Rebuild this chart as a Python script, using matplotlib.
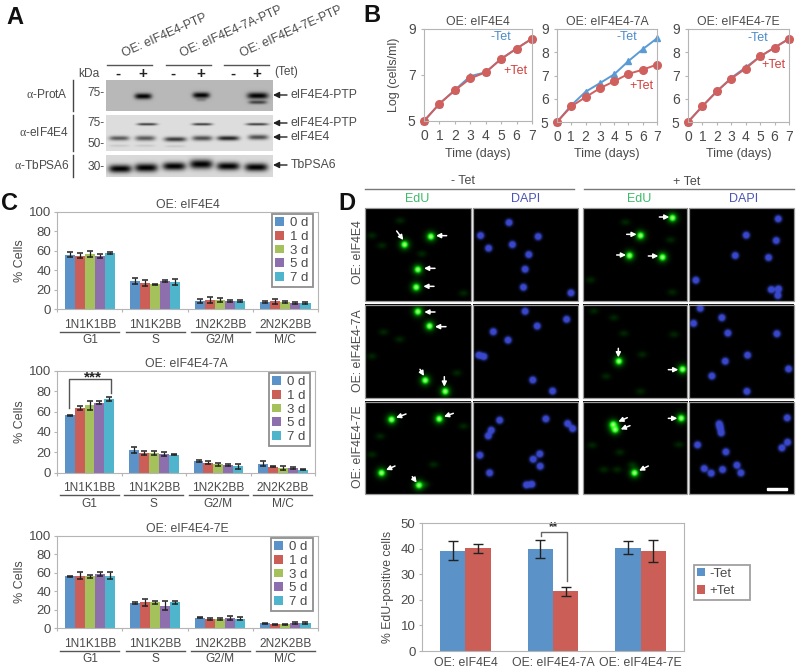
import numpy as np
import matplotlib
matplotlib.use("Agg")
import matplotlib.pyplot as plt
from matplotlib.patches import Rectangle

plt.rcParams['font.family'] = ['Liberation Sans', 'DejaVu Sans']
plt.rcParams['mathtext.fontset'] = 'custom'
plt.rcParams['mathtext.rm'] = 'Liberation Serif'

W, H = 800, 672
TXT = '#4a4a4a'
FRAME = '#b5b5b5'

# Panel B: growth curves
days = [0, 1, 2, 3, 4, 5, 6, 7]
wt_minus = [5, 5.75, 6.35, 6.95, 7.12, 7.7, 8.15, 8.58]
wt_plus = [5, 5.75, 6.33, 6.85, 7.12, 7.7, 8.15, 8.58]
a7_minus = [5, 5.72, 6.3, 6.67, 7.05, 7.62, 8.13, 8.6]
a7_plus = [5, 5.67, 6.07, 6.45, 6.75, 7.07, 7.25, 7.47]
e7_minus = [5, 5.68, 6.32, 6.9, 7.35, 7.82, 8.2, 8.58]
e7_plus = [5, 5.68, 6.32, 6.87, 7.3, 7.82, 8.2, 8.58]

# Panel C: cell cycle stages, one row per stage, one column per day
stages = ['1N1K1BB', '1N1K2BB', '1N2K2BB', '2N2K2BB']
phases = ['G1', 'S', 'G2/M', 'M/C']
day_labels = ['0 d', '1 d', '3 d', '5 d', '7 d']
day_colors = ['#5b93c8', '#cb5f58', '#a5c15c', '#8c6fac', '#4fb5cd']
c_wt = [[56, 55, 57, 55, 57.5], [29, 27, 25.5, 29, 28], [8.5, 9.5, 9.5, 8.5, 8.5], [7.5, 8, 7.8, 6.5, 6]]
c_wt_err = [[2.5, 2.5, 3, 2, 1], [3, 3, 0.8, 1, 3], [2.5, 3, 2, 1, 0.8], [0.8, 2.5, 1, 0.8, 1]]
c_7a = [[56.5, 63.5, 66, 68.5, 72], [22.5, 19.5, 19.5, 18.5, 17.5], [11.5, 10, 8.5, 7.5, 6.5], [9, 6, 4.5, 5, 3]]
c_7a_err = [[0.5, 2, 4.5, 1.5, 2], [3, 2, 2, 2, 0.5], [1, 1.5, 1.5, 1, 2.5], [2, 0.8, 2, 1, 0.5]]
c_7e = [[56, 57, 56, 58.5, 57], [27.5, 28, 28, 24.5, 28], [11.5, 10.5, 10.5, 11.5, 10.5], [5.5, 4.5, 4.5, 5.5, 5.5]]
c_7e_err = [[0.8, 4, 2, 2.5, 3.5], [1.2, 4, 1.5, 5, 2], [0.5, 1, 1, 2, 1.5], [0.5, 0.5, 0.5, 1, 0.8]]

# Panel D: EdU bars
edu_groups = ['OE: eIF4E4', 'OE: eIF4E4-7A', 'OE: eIF4E4-7E']
edu_minus = [39.3, 40, 40.5]
edu_plus = [40.2, 23.4, 39]
edu_minus_err = [3.7, 3.5, 2.6]
edu_plus_err = [1.7, 1.7, 4.3]

# Panel D: micrographs, cell spots
green_bright = [
    [(193, 162), (272, 138), (233, 237), (228, 290)],
    [(996, 82), (900, 135), (867, 195), (966, 200)],
    [(233, 367), (268, 410), (255, 572), (315, 605)],
    [(835, 515), (1026, 539)],
    [(154, 690), (297, 688), (124, 850), (236, 887)],
    [(818, 705), (824, 720), (1022, 686), (882, 850)],
]
green_faint = [
    [(95, 135), (125, 165), (245, 190), (370, 308), (180, 90)],
    [(990, 148), (750, 268), (995, 305), (855, 95)],
    [(130, 428), (178, 450), (95, 500), (350, 550)],
    [(760, 365), (820, 385), (850, 432), (1000, 435), (905, 495), (797, 560), (900, 605)],
    [(370, 710), (120, 740), (95, 795), (280, 825), (255, 885)],
    [(755, 767), (838, 788), (1015, 765), (790, 840), (830, 840), (875, 825)],
]
blue_cells = [
    [(505, 96), (420, 135), (592, 138), (515, 162), (444, 173), (564, 192), (553, 236), (548, 290), (690, 307)],
    [(1314, 85), (1218, 134), (1308, 150), (1185, 195), (1285, 201), (1067, 269), (1293, 297), (1315, 295), (1313, 315)],
    [(553, 366), (677, 390), (589, 410), (458, 427), (502, 452), (415, 497), (430, 501), (576, 571), (635, 604)],
    [(1080, 357), (1145, 385), (1060, 402), (1163, 431), (1310, 433), (1222, 497), (1155, 515), (1345, 538), (1115, 559), (1220, 605)],
    [(477, 692), (615, 688), (680, 702), (695, 717), (452, 722), (443, 739), (418, 797), (597, 793), (577, 809), (598, 830), (447, 850), (557, 886), (573, 884)],
    [(1341, 685), (1137, 703), (1140, 715), (1143, 730), (1072, 766), (1342, 758), (1325, 775), (1157, 787), (1190, 827), (1092, 837), (1113, 851), (1147, 840), (1202, 850)],
]
white_arrows = [
    ((170, 123), (190, 150)), ((320, 137), (288, 137)), ((285, 235), (252, 235)), ((282, 289), (250, 289)),
    ((958, 81), (988, 81)), ((860, 133), (890, 133)), ((830, 195), (858, 195)), ((925, 198), (955, 198)),
    ((285, 366), (253, 366)), ((318, 410), (285, 410)), ((240, 538), (252, 558)), ((313, 560), (313, 590)),
    ((835, 475), (835, 502)), ((985, 539), (1015, 539)),
    ((198, 672), (168, 683)), ((340, 670), (312, 680)), ((165, 828), (138, 840)), ((217, 860), (230, 878)),
    ((862, 683), (835, 695)), ((870, 707), (842, 718)), ((985, 685), (1012, 685)), ((925, 828), (897, 842)),
]

fig = plt.figure(figsize=(8, 6.72), dpi=100)

# full-figure axes in pixel coordinates, for text, blots and micrographs
ov = fig.add_axes([0, 0, 1, 1], facecolor='none')
ov.axis('off')


def px_axes(left, top, right, bottom):
    ax = fig.add_axes([left / W, 1 - bottom / H, (right - left) / W, (bottom - top) / H])
    ax.patch.set_alpha(0)
    return ax


def label(x, y, s, size=9, color=TXT, **kw):
    kw.setdefault('ha', 'center')
    kw.setdefault('va', 'center')
    ov.text(x, y, s, fontsize=size, color=color, **kw)


def zx(x):
    return x / 3 + 340


def zy(y):
    return y / 3 + 190


# Panel A: western blots
def blot(left, top, right, bottom, bg, bands):
    xs, ys = np.meshgrid(np.arange(left, right, 0.5), np.arange(top, bottom, 0.5))
    img = np.full(xs.shape, bg, dtype=float)
    for cx, cy, hw, hh, s in bands:
        band = np.exp(-((xs - cx) / hw) ** 4) * np.exp(-((ys - cy) / hh) ** 2)
        img = img * (1 - s * band)
    ov.imshow(img, cmap='gray', vmin=0, vmax=1, extent=(left, right, bottom, top), aspect='auto', interpolation='bilinear')


blot(106, 80, 273, 111, 0.72, [
    (143, 96, 8.5, 2.9, 1.0), (201, 95, 8.5, 2.9, 1.0), (257.5, 95.5, 10.5, 3.2, 1.0),
    (257.5, 102, 9, 1.8, 0.65), (201, 99.5, 5, 1.8, 0.25)])
blot(106, 115, 273, 151, 0.87, [
    (147, 124, 10, 1.2, 0.75), (202, 124, 10, 1.2, 0.75), (257, 124, 11, 1.2, 0.75),
    (119, 138, 10, 2.3, 0.6), (145, 138, 10, 2.5, 0.6), (175, 139, 11, 2.3, 0.75),
    (202, 138, 10, 2.5, 0.65), (228, 138, 11, 2.3, 0.85), (258, 137, 10, 2.5, 0.65),
    (119, 145.5, 10, 1.2, 0.1), (145, 145.5, 10, 1.2, 0.1), (175, 146, 10, 1.2, 0.1)])
blot(106, 155, 273, 177, 0.85, [
    (120, 168.5, 11.5, 4, 1.0), (146, 167.5, 11.5, 4.2, 1.0), (174, 166, 11.5, 4, 1.0),
    (201, 164, 11.5, 4.6, 1.0), (228, 166, 11.5, 4, 1.0), (256, 167, 11.5, 4, 1.0)])

label(6, 17, 'A', size=17, color='#111111', ha='left', fontweight='bold')
label(372, 15, 'B', size=17, color='#111111', fontweight='bold')
label(10, 204, 'C', size=17, color='#111111', fontweight='bold')
label(347, 203, 'D', size=17, color='#111111', fontweight='bold')

for x0, x1, name, tx in [(107, 152, 'OE: eIF4E4-PTP', 125), (166, 211, 'OE: eIF4E4-7A-PTP', 183), (224, 269, 'OE: eIF4E4-7E-PTP', 243)]:
    ov.plot([x0, x1], [64.5, 64.5], color='#555555', lw=1)
    label(tx, 60, name, size=8.8, ha='left', va='bottom', rotation=24, rotation_mode='anchor')
label(89, 74, 'kDa', size=8.6)
for x, s in zip([118, 143, 173, 201, 233, 257], ['-', '+'] * 3):
    label(x, 74, s, size=11, color='#222222', fontweight='bold')
label(274, 72, '(Tet)', size=8.6, ha='left')

for y0, y1, s, lx in [(80, 111, r'$\mathrm{\alpha}$-ProtA', 68), (115, 151, r'$\mathrm{\alpha}$-eIF4E4', 69), (155, 177, r'$\mathrm{\alpha}$-TbPSA6', 70)]:
    ov.plot([72.5, 72.5], [y0, y1], color='#444444', lw=1)
    label(lx, (y0 + y1) / 2 - 0.5, s, size=8.6, ha='right')
for y, s in [(93, '75-'), (123, '75-'), (144, '50-'), (167, '30-')]:
    label(105, y, s, size=8.6, ha='right')
for y, s in [(95, 'eIF4E4-PTP'), (123, 'eIF4E4-PTP'), (137, 'eIF4E4'), (165, 'TbPSA6')]:
    ov.annotate('', xy=(273, y), xytext=(287, y), arrowprops=dict(arrowstyle='-|>', color='#222222', lw=1, mutation_scale=9, shrinkA=0, shrinkB=0))
    label(290.5, y, s, size=8.8, ha='left')


# Panel B: growth curves
def growth(left, right, top, bottom, title, minus, plus, yticks, minus_xy, plus_xy, ylabel=False):
    ax = px_axes(left, top, right, bottom)
    ax.plot(days, minus, color='#5b9bd5', lw=1.4, marker='^', ms=5, clip_on=False)
    ax.plot(days, plus, color='#d0605e', lw=1.4, marker='o', ms=5.5, clip_on=False)
    ax.set_xlim(0, 7)
    ax.set_ylim(5, 9)
    ax.set_xticks(days)
    ax.set_yticks(yticks)
    ax.tick_params(colors=TXT, labelsize=10, length=2, color=FRAME, pad=4)
    for sp in ax.spines.values():
        sp.set_color(FRAME)
    ax.set_title(title, fontsize=8.8, color=TXT, pad=3)
    ax.set_xlabel('Time (days)', fontsize=9, color=TXT, labelpad=3)
    if ylabel:
        ax.set_ylabel('Log (cells/ml)', fontsize=9, color=TXT, labelpad=6)
    label(minus_xy[0], minus_xy[1], '-Tet', color='#4a8ccb')
    label(plus_xy[0], plus_xy[1], '+Tet', color='#d0403e')


growth(424, 532, 29, 121, 'OE: eIF4E4', wt_minus, wt_plus, [5, 7, 9], (501, 37), (515, 71), ylabel=True)
growth(557, 657, 29, 122, 'OE: eIF4E4-7A', a7_minus, a7_plus, [5, 6, 7, 8, 9], (627, 37), (641, 86))
growth(688, 789, 29, 122, 'OE: eIF4E4-7E', e7_minus, e7_plus, [5, 6, 7, 8, 9], (758, 38), (773, 65))


# Panel C: stage bars
def stage_chart(top, bottom, right, title, vals, errs, leg_box, y_lab, y_line, y_sub):
    ax = px_axes(57.3, top, right, bottom)
    width = 0.154
    handles = []
    for i, name in enumerate(day_labels):
        pos = [g + 0.5 + (i - 2) * width for g in range(4)]
        heights = [row[i] for row in vals]
        yerr = [row[i] for row in errs]
        bars = ax.bar(pos, heights, width, color=day_colors[i], yerr=yerr, edgecolor='none',
                      error_kw=dict(ecolor='#222222', elinewidth=0.9, capsize=2.5, capthick=1.1))
        handles.append(bars[0])
    ax.set_xlim(0, 4)
    ax.set_ylim(0, 100)
    ax.set_yticks([0, 20, 40, 60, 80, 100])
    ax.set_xticks([0, 1, 2, 3, 4])
    ax.set_xticklabels([])
    ax.tick_params(colors=TXT, labelsize=9.5, length=2.5, color=FRAME, pad=2)
    for sp in ax.spines.values():
        sp.set_color(FRAME)
    ax.set_ylabel('% Cells', fontsize=9, color=TXT, labelpad=2)
    ax.set_title(title, fontsize=8.8, color=TXT, pad=3)

    l, t, r, b = leg_box
    leg = ax.legend(handles, day_labels, loc='upper left', ncol=1,
                    bbox_to_anchor=(l / W, 1 - b / H, (r - l) / W, (b - t) / H),
                    bbox_transform=fig.transFigure, mode='expand', fontsize=9.5, labelspacing=0.12,
                    handlelength=0.65, handleheight=0.65, handletextpad=0.5, borderpad=0.25,
                    borderaxespad=0, fancybox=False, framealpha=1)
    leg.get_frame().set_edgecolor('#8f8f8f')
    leg.get_frame().set_linewidth(1.3)
    for t_ in leg.get_texts():
        t_.set_color(TXT)

    for g, (stage, phase) in enumerate(zip(stages, phases)):
        cx = 57.3 + (right - 57.3) * (g + 0.5) / 4
        ov.plot([cx - 29.5, cx + 29.5], [y_line, y_line], color='#555555', lw=1)
        label(cx, y_lab, stage, size=8.6)
        label(cx, y_sub, phase, size=8.6)


stage_chart(211.7, 309.3, 318, 'OE: eIF4E4', c_wt, c_wt_err, (272, 214, 313, 293), 325, 332, 340)
stage_chart(370.7, 472.7, 315, 'OE: eIF4E4-7A', c_7a, c_7a_err, (269, 373, 310, 453), 488, 495, 504)
stage_chart(535.7, 628.3, 318, 'OE: eIF4E4-7E', c_7e, c_7e_err, (271, 538, 313, 618), 644, 650.5, 659)

ov.plot([69, 69, 111, 111], [408, 379, 379, 393], color='#555555', lw=1)
label(93, 377, '***', size=11, color='#222222', fontweight='bold')


# Panel D: micrographs
def micrograph(box, spots, faint, color):
    left, top, right, bottom = box
    xs, ys = np.meshgrid(np.arange(left, right, 0.5), np.arange(top, bottom, 0.5))
    core = np.zeros(xs.shape)
    glow = np.zeros(xs.shape)
    for sx, sy in spots:
        d2 = (xs - zx(sx)) ** 2 + (ys - zy(sy)) ** 2
        core += np.exp(-d2 / (7.0 if color == 'green' else 9.0))
        glow += np.exp(-d2 / 30.0)
    for sx, sy in faint:
        glow += 0.3 * np.exp(-((xs - zx(sx)) ** 2 / 22.0 + (ys - zy(sy)) ** 2 / 10.0))
    img = np.zeros(xs.shape + (3,))
    if color == 'green':
        img[..., 1] = np.clip(glow * 0.5 + core * 1.2, 0, 1)
        img[..., 0] = np.clip(core ** 2 * 0.75, 0, 1)
        img[..., 2] = np.clip(core ** 2 * 0.6, 0, 1)
    else:
        m = np.clip(core * 2.2, 0, 1)
        img[..., 0] = m * 0.22
        img[..., 1] = m * 0.28
        img[..., 2] = m * 0.80
    ov.imshow(img, extent=(left, right, bottom, top), aspect='auto', interpolation='bilinear')
    ov.add_patch(Rectangle((left, top), right - left, bottom - top, fill=False, edgecolor='#9a9a9a', lw=0.9, zorder=4))


col_x = [(365, 470.7), (472.7, 577.7), (582.7, 687.3), (689, 794)]
row_y = [(207.7, 300.7), (305, 398.3), (401.7, 494.3)]
for r, (top, bottom) in enumerate(row_y):
    for c in [0, 2]:
        k = r * 2 + c // 2
        micrograph((col_x[c][0], top, col_x[c][1], bottom), green_bright[k], green_faint[k], 'green')
        micrograph((col_x[c + 1][0], top, col_x[c + 1][1], bottom), blue_cells[k], [], 'blue')

for tail, head in white_arrows:
    ov.annotate('', xy=(zx(head[0]), zy(head[1])), xytext=(zx(tail[0]), zy(tail[1])),
                arrowprops=dict(arrowstyle='-|>', color='white', lw=1.1, mutation_scale=7, shrinkA=0, shrinkB=0))
ov.add_patch(Rectangle((766.5, 487.5), 20, 2.5, color='white', zorder=5))

label(463, 181, '- Tet')
label(687, 182, '+ Tet')
ov.plot([365, 574], [188.7, 188.7], color='#777777', lw=1)
ov.plot([584, 794], [188.7, 188.7], color='#777777', lw=1)
for x, s, col in [(417, 'EdU', '#3dbb6a'), (526, 'DAPI', '#4a55b5'), (639, 'EdU', '#3dbb6a'), (744, 'DAPI', '#4a55b5')]:
    label(x, 199, s, color=col)
for y, s in [(252, 'OE: eIF4E4'), (351, 'OE: eIF4E4-7A'), (447, 'OE: eIF4E4-7E')]:
    label(358, y, s, size=8.8, rotation=90)

# Panel D: EdU bars
ax = px_axes(421.7, 523.3, 684.3, 651)
bar_w = 0.286
x_pos = np.arange(3) + 1
b1 = ax.bar(x_pos - bar_w / 2, edu_minus, bar_w, color='#5b93c8', yerr=edu_minus_err,
            error_kw=dict(ecolor='#222222', elinewidth=1, capsize=3.5, capthick=1))
b2 = ax.bar(x_pos + bar_w / 2, edu_plus, bar_w, color='#cb5f58', yerr=edu_plus_err,
            error_kw=dict(ecolor='#222222', elinewidth=1, capsize=3.5, capthick=1))
ax.set_xlim(0.5, 3.5)
ax.set_ylim(0, 50)
ax.set_yticks([0, 10, 20, 30, 40, 50])
ax.set_xticks(x_pos)
ax.set_xticklabels(edu_groups)
ax.tick_params(axis='x', length=0, pad=4, colors=TXT, labelsize=8.8)
ax.tick_params(axis='y', length=2.5, color=FRAME, pad=2, labelcolor=TXT, labelsize=9.5)
for sp in ax.spines.values():
    sp.set_color(FRAME)
ax.set_ylabel('% EdU-positive cells', fontsize=8.8, color=TXT, labelpad=5)

leg = ax.legend([b1[0], b2[0]], ['-Tet', '+Tet'], loc='upper left',
                bbox_to_anchor=(694 / W, 1 - 602 / H, 55.5 / W, 37 / H), bbox_transform=fig.transFigure,
                mode='expand', fontsize=9.5, labelspacing=0.4, handlelength=0.65, handleheight=0.65,
                handletextpad=0.3, borderpad=0.2, borderaxespad=0, fancybox=False, framealpha=1)
leg.get_frame().set_edgecolor('#a0a0a0')
leg.get_frame().set_linewidth(1.3)
for t_ in leg.get_texts():
    t_.set_color(TXT)

ov.plot([541, 541, 566.7, 566.7], [536, 532, 532, 581], color='#666666', lw=1)
label(554, 527, '**', size=8.5, color='#222222', fontweight='bold')

ov.set_xlim(0, W)
ov.set_ylim(H, 0)

fig.savefig('out.png', dpi=100)
